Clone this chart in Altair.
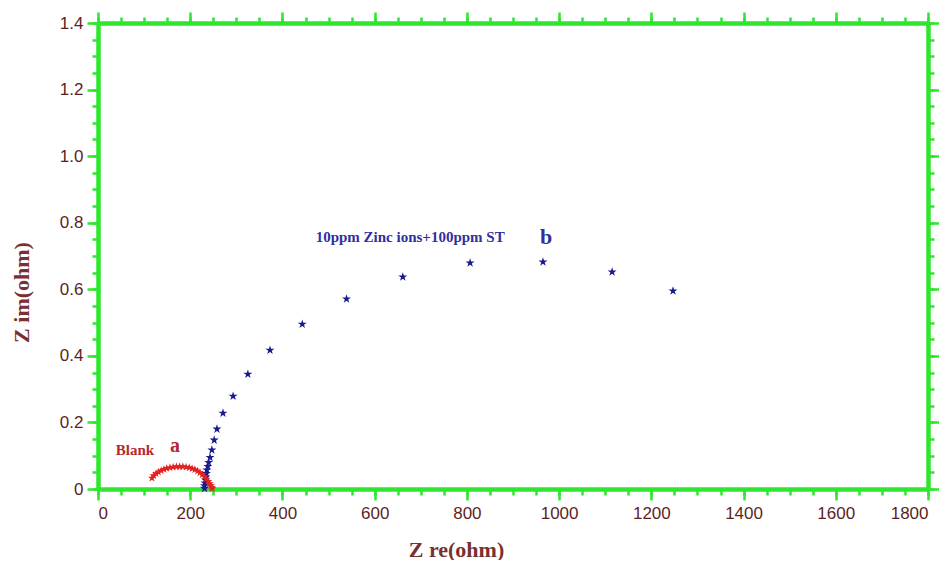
import altair as alt
import pandas as pd

# Blank (curve a)
red_x = [117, 121, 126, 131, 137, 143, 149, 156, 163, 170, 177, 184, 191, 198, 204,
         210, 216, 221, 226, 231, 235, 239, 242, 245, 247, 248]
red_y = [0.033, 0.040, 0.046, 0.051, 0.055, 0.059, 0.062, 0.064, 0.066, 0.067, 0.067,
         0.067, 0.066, 0.064, 0.061, 0.058, 0.054, 0.049, 0.043, 0.037, 0.030, 0.023,
         0.016, 0.010, 0.005, 0.001]

# 10ppm Zinc ions + 100ppm ST (curve b)
blue_x = [231, 231, 232, 233, 234, 235, 236, 238, 240, 243, 247, 252, 258, 271, 293,
          325, 373, 443, 539, 661, 807, 965, 1115, 1247]
blue_y = [0.002, 0.010, 0.018, 0.027, 0.036, 0.047, 0.057, 0.068, 0.080, 0.095, 0.117,
          0.147, 0.180, 0.228, 0.279, 0.345, 0.417, 0.495, 0.571, 0.637, 0.679, 0.682,
          0.652, 0.595]

x_major = [0, 200, 400, 600, 800, 1000, 1200, 1400, 1600, 1800]
x_minor = [v * 50 for v in range(0, 37)]
y_major = [0, 0.2, 0.4, 0.6, 0.8, 1.0, 1.2, 1.4]
y_minor = [round(v * 0.05, 2) for v in range(0, 29)]

ann_text = ["Blank", "a", "10ppm Zinc ions+100ppm ST", "b"]
ann_x = [80, 167, 677, 972]
ann_y = [0.117, 0.128, 0.757, 0.757]
ann_color = ["#b52a2a", "#b52a2a", "#2f2fa0", "#2f2fa0"]
ann_size = [15, 20, 15, 22]

GREEN = "#2ee62e"
LABEL = "#5c1f1f"
TITLE = "#7a3030"

star = ("M0,-1L0.2245,-0.309L0.951,-0.309L0.363,0.118L0.588,0.809L0,0.382"
        "L-0.588,0.809L-0.363,0.118L-0.951,-0.309L-0.2245,-0.309Z")

xs = alt.Scale(domain=[0, 1800], nice=False, zero=False)
ys = alt.Scale(domain=[0, 1.4], nice=False, zero=False)

red_df = pd.DataFrame({"x": red_x, "y": red_y})
blue_df = pd.DataFrame({"x": blue_x, "y": blue_y})
ann_df = pd.DataFrame({"t": ann_text, "x": ann_x, "y": ann_y, "c": ann_color, "s": ann_size})
dummy = pd.DataFrame({"x": [0], "y": [0]})


def common(orient, values, size, labels):
    d = dict(orient=orient, values=values, tickSize=size, tickWidth=2.5, tickColor=GREEN,
             domainColor=GREEN, domainWidth=4, grid=False, labels=labels, title=None)
    return d


def axis_layer(xaxis, yaxis):
    return alt.Chart(dummy).mark_point(opacity=0).encode(
        x=alt.X("x:Q", scale=xs, axis=xaxis),
        y=alt.Y("y:Q", scale=ys, axis=yaxis),
    )


lab = dict(labelFont="Liberation Sans", labelFontSize=17, labelColor=LABEL)

x_bottom = alt.Axis(**common("bottom", x_major, 11, True), **lab, labelPadding=5,
                    labelExpr="format(datum.value, 'd')")
x_bottom_t = alt.Axis(orient="bottom", values=x_major, tickSize=0, labels=False, grid=False,
                      domain=False, title="Z re(ohm)", titleFont="Liberation Serif",
                      titleFontSize=22, titleFontWeight="bold", titleColor=TITLE,
                      titleX=358, titleY=67, titleAnchor="middle", titleBaseline="alphabetic")
x_bottom_m = alt.Axis(**common("bottom", x_minor, 6, False))
x_top = alt.Axis(**common("top", x_major, 11, False))
x_top_m = alt.Axis(**common("top", x_minor, 6, False))

y_left = alt.Axis(**common("left", y_major, 11, True), **lab, labelPadding=4,
                  labelExpr="datum.value == 0 ? '0' : format(datum.value, '.1f')")
y_left_t = alt.Axis(orient="left", values=y_major, tickSize=0, labels=False, grid=False,
                    domain=False, title="Z im(ohm)", titleFont="Liberation Serif",
                    titleFontSize=22, titleFontWeight="bold", titleColor=TITLE,
                    titleX=-70, titleY=269, titleAngle=-90, titleAnchor="middle",
                    titleBaseline="alphabetic")
y_left_m = alt.Axis(**common("left", y_minor, 6, False))
y_right = alt.Axis(**common("right", y_major, 11, False))
y_right_m = alt.Axis(**common("right", y_minor, 6, False))

layers = [
    axis_layer(x_bottom_m, y_left_m),
    axis_layer(x_top_m, y_right_m),
    axis_layer(x_top, y_right),
    axis_layer(x_bottom_t, y_left_t),
    axis_layer(x_bottom, y_left),
]

red = alt.Chart(red_df).mark_point(shape=star, filled=True, size=75, color="#e02222",
                                   opacity=1).encode(
    x=alt.X("x:Q", scale=xs, axis=None), y=alt.Y("y:Q", scale=ys, axis=None))
blue = alt.Chart(blue_df).mark_point(shape=star, filled=True, size=90, color="#1a1a8f",
                                     opacity=1).encode(
    x=alt.X("x:Q", scale=xs, axis=None), y=alt.Y("y:Q", scale=ys, axis=None))

ann = alt.Chart(ann_df).mark_text(font="Liberation Serif", fontWeight="bold",
                                  align="center", baseline="middle").encode(
    x=alt.X("x:Q", scale=xs, axis=None), y=alt.Y("y:Q", scale=ys, axis=None),
    text="t:N", color=alt.Color("c:N", scale=None), size=alt.Size("s:Q", scale=None))

chart = alt.layer(*layers, blue, red, ann).resolve_axis(
    x="independent", y="independent"
).properties(
    width=830, height=466,
    autosize=alt.AutoSizeParams(type="none"),
    padding={"left": 90, "top": 15, "right": 11, "bottom": 71},
).configure_view(stroke=None).configure(background="white")

chart.save("out.html", embed_options={"renderer": "svg", "actions": False})
